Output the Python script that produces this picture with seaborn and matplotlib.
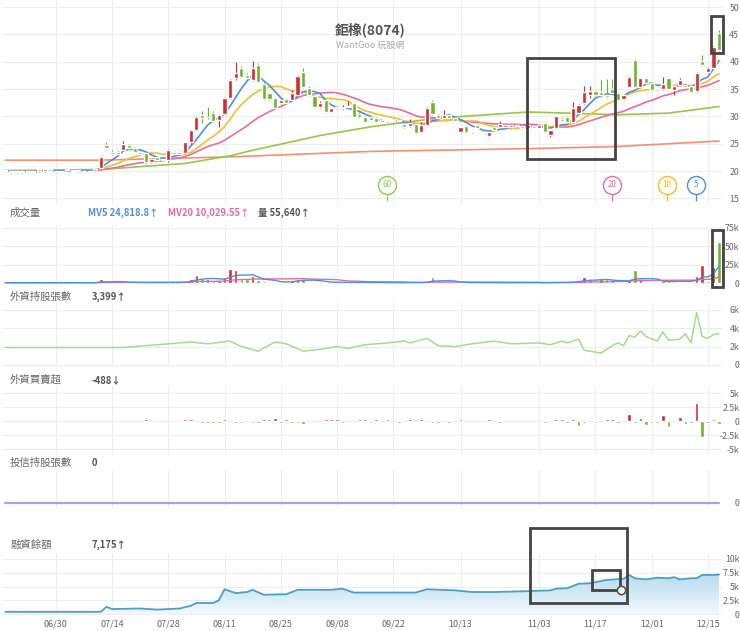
import numpy as np
import pandas as pd
import matplotlib
matplotlib.use('Agg')
import matplotlib.pyplot as plt
from matplotlib.patches import Rectangle
import seaborn as sns

# ---- data (index = trading day) ----
tick_pos = [9, 19, 29, 39, 49, 59, 69, 81, 95, 105, 115, 125]
tick_lbl = ['06/30', '07/14', '07/28', '08/11', '08/25', '09/08', '09/22',
            '10/13', '11/03', '11/17', '12/01', '12/15']

open_ = [20.2, 19.8, 19.9, 20.0, 19.8, 19.9, 20.3, 20.0, 20.3, 20.1, 19.9, 20.4, 20.2, 20.0, 20.1, 19.9,
         20.0, 20.5, 24.8, 23.5, 23.1, 23.8, 24.8, 24.2, 23.5, 23.3, 21.7, 22.5, 22.1, 22.1, 23.5, 23.4,
         23.3, 25.3, 27.5, 30.3, 29.9, 30.6, 29.3, 30.4, 33.4, 37.0, 38.8, 37.6, 36.7, 39.4, 35.9, 34.3,
         33.4, 32.5, 33.2, 33.0, 34.0, 38.1, 35.2, 33.8, 31.8, 33.0, 30.8, 31.7, 31.6, 31.7, 32.4, 30.5,
         29.9, 29.9, 29.7, 29.3, 29.2, 29.3, 29.3, 28.6, 28.2, 28.6, 27.1, 28.4, 32.6, 30.3, 29.7, 30.3,
         29.7, 27.1, 28.2, 27.1, 28.4, 27.2, 26.5, 28.0, 28.1, 28.0, 28.0, 28.2, 28.3, 27.9, 28.2, 27.9,
         28.8, 26.6, 27.8, 29.6, 29.8, 29.0, 30.6, 32.4, 34.0, 34.6, 34.5, 34.0, 35.0, 34.3, 33.2, 35.4,
         40.3, 35.4, 37.0, 36.1, 35.0, 35.0, 37.0, 34.8, 35.8, 35.7, 35.6, 34.6, 40.1, 38.1, 38.8, 45.2]
high = [20.3, 20.0, 20.1, 20.1, 20.0, 20.2, 20.4, 20.4, 20.4, 20.2, 20.2, 20.5, 20.3, 20.2, 20.2, 20.1,
        20.4, 22.7, 25.4, 23.8, 23.7, 25.5, 25.0, 24.4, 23.7, 23.5, 22.3, 22.7, 22.5, 24.0, 23.7, 23.6,
        25.4, 27.6, 30.0, 30.9, 31.8, 31.0, 30.5, 33.5, 36.8, 39.9, 39.2, 37.9, 40.2, 39.8, 36.2, 34.5,
        33.6, 33.2, 33.4, 34.8, 37.5, 38.9, 35.6, 34.0, 32.8, 33.2, 31.6, 31.9, 32.0, 32.8, 32.6, 30.8,
        30.1, 30.3, 29.9, 29.5, 29.4, 29.5, 29.5, 28.8, 29.5, 28.8, 28.9, 31.8, 33.0, 30.5, 31.2, 30.6,
        29.9, 28.1, 28.3, 27.4, 28.6, 27.3, 27.3, 28.1, 29.2, 28.6, 28.6, 28.4, 28.4, 28.5, 28.3, 28.5,
        29.0, 27.6, 30.1, 29.8, 30.0, 32.6, 32.3, 35.6, 35.6, 34.8, 36.6, 36.8, 36.8, 34.5, 34.0, 37.3,
        40.5, 37.1, 37.2, 36.3, 35.2, 37.2, 37.2, 35.8, 37.0, 35.9, 35.8, 38.1, 41.3, 39.0, 42.8, 45.8]
low = [19.8, 19.6, 19.7, 19.7, 19.7, 19.8, 19.9, 19.9, 20.0, 19.6, 19.8, 20.1, 20.0, 19.9, 19.8, 19.8,
       19.9, 20.4, 24.0, 23.0, 23.0, 23.6, 24.0, 23.4, 23.0, 21.5, 21.5, 22.0, 21.9, 21.6, 23.0, 23.0,
       23.2, 25.0, 27.4, 28.8, 29.5, 29.0, 28.0, 30.2, 33.2, 36.6, 37.0, 36.9, 36.5, 36.2, 33.0, 33.0,
       31.3, 32.3, 32.3, 32.8, 33.8, 35.2, 33.8, 31.5, 31.6, 30.6, 30.6, 31.4, 31.4, 31.6, 29.8, 29.7,
       28.9, 29.2, 28.8, 28.9, 29.0, 29.0, 29.0, 27.9, 28.0, 26.8, 26.9, 28.2, 30.2, 29.6, 29.5, 29.6,
       29.1, 27.0, 27.0, 27.0, 27.8, 26.9, 26.2, 27.4, 28.0, 27.9, 27.9, 28.0, 27.7, 27.8, 27.8, 27.8,
       27.1, 26.2, 27.7, 29.0, 28.9, 28.9, 30.5, 32.2, 33.3, 33.8, 33.5, 33.3, 34.2, 32.9, 33.0, 35.3,
       35.3, 35.2, 36.0, 34.7, 34.8, 34.8, 34.9, 34.0, 35.6, 35.3, 34.3, 34.5, 39.2, 37.9, 38.6, 42.0]
close = [20.0, 19.9, 20.0, 19.8, 19.9, 20.1, 20.0, 20.3, 20.1, 19.9, 20.1, 20.2, 20.1, 20.1, 19.9, 20.0,
         20.3, 22.6, 24.2, 23.1, 23.5, 25.0, 24.2, 23.5, 23.2, 21.7, 22.2, 22.1, 22.3, 23.9, 23.1, 23.1,
         25.3, 27.5, 29.8, 29.7, 29.8, 29.2, 30.3, 33.4, 36.7, 37.9, 37.2, 37.0, 38.8, 36.3, 33.1, 33.1,
         31.5, 33.0, 32.4, 34.3, 37.3, 35.4, 34.0, 31.7, 32.5, 30.8, 31.5, 31.5, 31.6, 31.8, 29.9, 29.8,
         29.0, 29.4, 28.9, 29.0, 29.2, 29.2, 29.1, 28.0, 28.8, 27.0, 28.4, 31.5, 30.4, 29.7, 30.3, 29.7,
         29.2, 28.0, 27.2, 27.3, 27.9, 27.0, 27.2, 27.5, 28.6, 28.4, 28.5, 28.2, 27.8, 28.4, 27.9, 28.4,
         27.2, 27.5, 30.0, 29.1, 29.0, 31.5, 32.1, 34.5, 34.6, 33.9, 33.9, 33.6, 34.3, 33.0, 33.9, 37.2,
         35.4, 37.0, 36.1, 34.8, 35.0, 36.0, 35.0, 35.6, 36.7, 35.4, 34.4, 38.0, 39.4, 38.8, 42.7, 42.1]

# volume, thousands of shares
volume = [0.4, 0.3, 0.5, 0.3, 0.4, 0.6, 0.3, 0.5, 0.4, 0.3, 0.5, 0.4, 0.3, 0.4, 0.3, 0.5,
          0.8, 5.0, 1.5, 1.0, 0.8, 1.2, 0.8, 0.7, 0.5, 0.8, 0.5, 0.4, 0.9, 1.0, 0.6, 0.5,
          2.0, 6.0, 11.0, 6.0, 5.0, 2.5, 4.0, 8.0, 19.0, 17.0, 5.0, 5.0, 10.0, 3.5, 2.5, 1.2,
          1.0, 1.0, 1.2, 4.0, 6.0, 6.0, 2.0, 1.2, 1.0, 1.2, 0.8, 0.6, 0.7, 1.0, 1.2, 1.0,
          0.8, 0.6, 0.7, 0.5, 0.4, 0.4, 0.5, 0.6, 0.5, 0.8, 0.7, 2.5, 8.0, 2.0, 2.0, 0.8,
          0.6, 0.7, 0.6, 0.4, 0.5, 0.4, 0.5, 0.4, 0.4, 0.3, 0.4, 0.3, 0.4, 0.3, 0.4, 0.4,
          0.6, 0.8, 1.5, 0.7, 0.8, 2.0, 3.5, 8.0, 4.0, 2.0, 5.0, 5.0, 4.0, 1.0, 1.0, 3.5,
          17.0, 6.0, 2.0, 1.0, 1.0, 3.0, 3.0, 2.0, 2.0, 2.0, 2.0, 10.0, 25.0, 3.0, 21.0, 55.64]

ma60_idx = [0, 17, 32, 40, 44, 52, 56, 65, 77, 93, 100, 109, 118, 127]
ma60_val = [20.1, 20.3, 21.4, 22.8, 23.8, 25.6, 26.5, 28.1, 29.7, 30.8, 30.6, 30.3, 30.6, 31.8]
malong_idx = [0, 17, 40, 65, 93, 109, 127]
malong_val = [22.0, 22.0, 22.6, 23.6, 24.1, 24.5, 25.5]

# foreign holdings (k)
fhold_idx = [0, 21, 25, 33, 36, 40, 42, 45, 48, 50, 53, 56, 59, 61, 64, 68, 71, 72, 75, 77, 80, 83,
             87, 90, 95, 97, 99, 100, 102, 103, 106, 108, 109, 110, 111, 112, 113, 114, 116, 117,
             118, 120, 121, 122, 123, 124, 125, 126, 127]
fhold_val = [1.9, 1.9, 2.1, 2.5, 2.3, 2.6, 2.0, 1.5, 2.5, 2.3, 1.5, 1.7, 2.0, 1.8, 2.2, 2.4, 2.6, 2.4,
             2.9, 2.1, 2.0, 2.3, 2.6, 2.3, 2.4, 2.2, 2.6, 2.4, 2.8, 1.6, 1.3, 2.1, 2.4, 2.1, 3.2, 3.0,
             3.7, 3.1, 2.6, 3.6, 2.7, 2.8, 3.4, 2.4, 5.7, 3.1, 2.9, 3.3, 3.399]

# foreign net buy/sell (k)
fnet_idx = [25, 32, 33, 35, 36, 37, 38, 39, 41, 42, 44, 45, 46, 47, 48, 49, 50, 51, 52, 53, 57, 58,
            59, 60, 63, 64, 65, 66, 68, 70, 72, 74, 76, 77, 79, 81, 86, 88, 96, 98, 99, 100, 101,
            102, 103, 105, 107, 108, 109, 111, 112, 113, 114, 115, 116, 117, 118, 120, 121, 122,
            123, 124, 125, 126, 127]
fnet_val = [0.06, 0.06, 0.08, -0.06, -0.06, -0.08, -0.06, 0.3, -0.4, -0.2, -0.1, -0.15, 0.3, 0.2, 0.5,
            -0.1, 0.1, -0.3, -0.3, -0.6, 0.06, 0.06, 0.06, -0.2, 0.1, 0.1, -0.2, 0.2, 0.1, -0.1,
            0.1, 0.2, -0.4, -0.4, -0.1, 0.06, 0.06, -0.06, -0.2, 0.2, 0.1, -0.1, 0.2, -0.9, -0.3,
            -0.15, 0.2, 0.2, -0.1, 1.2, -0.3, 0.5, -0.8, -0.2, -0.2, 1.1, -1.0, 0.8, -0.6, -0.3,
            3.2, -2.9, -0.1, 0.3, -0.488]

trust_idx = [0, 127]
trust_val = [0, 0]

# margin balance (k)
margin_idx = [0, 17, 18, 19, 24, 27, 31, 33, 34, 37, 38, 39, 41, 43, 44, 46, 50, 52, 58, 60, 62, 73,
              75, 80, 83, 87, 91, 97, 98, 100, 102, 104, 107, 110, 111, 112, 114, 116, 118, 119,
              120, 122, 123, 124, 126, 127]
margin_val = [0.4, 0.4, 1.3, 0.9, 1.0, 0.8, 1.0, 1.5, 2.0, 2.0, 2.5, 4.5, 3.8, 4.0, 4.4, 3.5, 3.6,
              4.4, 4.4, 4.6, 3.9, 3.9, 4.5, 4.3, 4.0, 4.0, 4.1, 4.3, 4.6, 4.7, 5.5, 5.6, 6.2, 6.4,
              7.1, 6.5, 6.3, 6.6, 6.5, 6.7, 6.3, 6.5, 6.5, 7.1, 7.1, 7.175]

# ---- colours ----
RED = '#d42a30'
GREEN = '#6db62c'
C_MA5 = '#4f8fdf'
C_MA10 = '#f4bf2b'
C_MA20 = '#e66c9f'
C_MA60 = '#98c54c'
C_LONG = '#f2906f'
GRID = '#ededed'
TXT = '#666666'

sns.set_style('white')
plt.rcParams['font.family'] = ['Noto Sans CJK TC', 'DejaVu Sans']

W, H = 740, 631
fig = plt.figure(figsize=(W / 100, H / 100), dpi=100)
XL = (-0.59, 127.52)


def panel(top, bottom, ylim, yticks, ylabels):
    ax = fig.add_axes([2 / W, 1 - bottom / H, 720 / W, (bottom - top) / H])
    ax.set_xlim(*XL)
    ax.set_ylim(*ylim)
    ax.set_xticks(tick_pos)
    ax.set_xticklabels([])
    ax.set_yticks(yticks)
    ax.yaxis.tick_right()
    # right-aligned so the labels end just inside the figure edge
    ax.set_yticklabels(ylabels, fontsize=6.3, color=TXT, ha='right')
    ax.tick_params(axis='y', length=0, pad=12.3)
    ax.tick_params(axis='x', length=0)
    ax.grid(True, color=GRID, lw=0.8)
    for s in ax.spines.values():
        s.set_visible(False)
    return ax


def label(x, y, s, **kw):
    kw.setdefault('color', '#666666')
    kw.setdefault('fontsize', 7.5)
    fig.text(x / W, 1 - y / H, s, va='center', ha='left', **kw)


days = np.arange(len(close))
o, h, l, c = map(np.array, (open_, high, low, close))

# ---- price panel ----
ax = panel(0, 205, (13.8, 51.28), [15, 20, 25, 30, 35, 40, 45, 50],
           ['15', '20', '25', '30', '35', '40', '45', '50'])
cs = pd.Series(close)
sns.lineplot(x=malong_idx, y=malong_val, ax=ax, color=C_LONG, lw=1.2, zorder=2)
sns.lineplot(x=ma60_idx, y=ma60_val, ax=ax, color=C_MA60, lw=1.2, zorder=2)
sns.lineplot(x=days, y=cs.rolling(20, min_periods=1).mean(), ax=ax, color=C_MA20, lw=1.2, zorder=3)
sns.lineplot(x=days, y=cs.rolling(10, min_periods=1).mean(), ax=ax, color=C_MA10, lw=1.2, zorder=3)
sns.lineplot(x=days, y=cs.rolling(5, min_periods=1).mean(), ax=ax, color=C_MA5, lw=1.2, zorder=3)
ax.set_xlabel('')
ax.set_ylabel('')

col = np.where(c > o, RED, np.where(c < o, GREEN, '#333333'))
ax.vlines(days, l, h, colors=col, lw=0.8, zorder=5)
ax.bar(days, np.maximum(np.abs(c - o), 0.18), bottom=np.minimum(o, c), width=0.74,
       color=col, zorder=5)

for xi, txt, cc in [(67.9, '60', C_MA60), (108.0, '20', C_MA20), (117.7, '10', C_MA10), (122.9, '5', C_MA5)]:
    ax.vlines(xi, 14.6, 16.4, color=cc, lw=0.9, zorder=5)
    ax.plot(xi, 17.5, 'o', ms=13, mfc='white', mec=cc, mew=1.0, zorder=6)
    ax.text(xi, 17.5, txt, color=cc, fontsize=5.8, ha='center', va='center', zorder=7)

ax.add_patch(Rectangle((92.8, 22.2), 15.7, 18.5, fill=False, ec='#444444', lw=2, zorder=8, clip_on=False))
ax.add_patch(Rectangle((125.6, 41.6), 2.1, 6.8, fill=False, ec='#444444', lw=2, zorder=8, clip_on=False))

fig.text(370 / W, 1 - 30 / H, '鉅橡(8074)', ha='center', va='center', fontsize=10,
         color='#555555', fontweight='bold')
fig.text(370 / W, 1 - 45 / H, 'WantGoo 玩股網', ha='center', va='center', fontsize=6.5, color='#aaaaaa')

# ---- volume panel ----
axv = panel(225, 286, (-4.05, 78.4), [0, 25, 50, 75], ['0', '25k', '50k', '75k'])
vcol = [RED] + [RED if c[i] >= c[i - 1] else GREEN for i in range(1, len(c))]
vs = pd.Series(volume)
sns.lineplot(x=days, y=vs.rolling(20, min_periods=1).mean(), ax=axv, color=C_MA20, lw=1.0, zorder=4)
sns.lineplot(x=days, y=vs.rolling(5, min_periods=1).mean(), ax=axv, color=C_MA5, lw=1.0, zorder=4)
axv.bar(days, volume, width=0.62, color=vcol, zorder=3)
axv.set_xlabel('')
axv.set_ylabel('')
axv.add_patch(Rectangle((125.7, -5.4), 2.0, 77.0, fill=False, ec='#444444', lw=2, zorder=8, clip_on=False))

label(10, 213, '成交量')
label(88, 213, 'MV5 24,818.8↑', color=C_MA5, fontweight='bold', fontsize=6.8)
label(168, 213, 'MV20 10,029.55↑', color=C_MA20, fontweight='bold', fontsize=6.8)
label(258, 213, '量 55,640↑', color='#555555', fontweight='bold', fontsize=6.8)

# ---- foreign holdings ----
axf = panel(303, 367, (-0.22, 6.74), [0, 2, 4, 6], ['0', '2k', '4k', '6k'])
sns.lineplot(x=fhold_idx, y=fhold_val, ax=axf, color='#a3dd8c', lw=1.1, zorder=3)
axf.set_xlabel('')
axf.set_ylabel('')
label(10, 297, '外資持股張數')
label(92, 297, '3,399↑', color='#555555', fontweight='bold', fontsize=6.8)

# ---- foreign net buy/sell ----
axn = panel(386, 455, (-6.07, 6.25), [-5, -2.5, 0, 2.5, 5], ['-5k', '-2.5k', '0', '2.5k', '5k'])
fn = np.array(fnet_val)
fn_draw = np.sign(fn) * np.maximum(np.abs(fn), 0.42)   # keep tiny bars visible as in the site
axn.bar(fnet_idx, fn_draw, width=0.66, color=[RED if v > 0 else GREEN for v in fnet_val], zorder=3)
label(10, 380, '外資買賣超')
label(92, 380, '-488↓', color='#555555', fontweight='bold', fontsize=6.8)

# ---- investment trust holdings ----
axt = panel(470, 508, (-1, 6.6), [0], ['0'])
axt.grid(axis='y', visible=False)
sns.lineplot(x=trust_idx, y=trust_val, ax=axt, color='#a5a3e2', lw=1.6, zorder=3)
axt.set_xlabel('')
axt.set_ylabel('')
label(10, 463, '投信持股張數')
label(92, 463, '0', color='#555555', fontweight='bold', fontsize=6.8)

# ---- margin balance ----
axm = panel(553, 615, (-0.18, 11.09), [0, 2.5, 5, 7.5, 10], ['0', '2.5k', '5k', '7.5k', '10k'])
fill = axm.fill_between(margin_idx, margin_val, 0, color='none', lw=0)
grad = axm.imshow(np.linspace(0, 1, 256).reshape(-1, 1), cmap=sns.blend_palette(
    ['#f3f9fc', '#b5dbee'], as_cmap=True), aspect='auto', origin='lower',
    extent=[XL[0], XL[1], 0, 7.3], zorder=2)
grad.set_clip_path(fill.get_paths()[0], transform=axm.transData)
axm.set_xlim(*XL)
axm.set_ylim(-0.18, 11.09)
sns.lineplot(x=margin_idx, y=margin_val, ax=axm, color='#4aa0c8', lw=1.3, zorder=3)
axm.set_xlabel('')
axm.set_ylabel('')
axm.set_xticklabels(tick_lbl, fontsize=6.5, color=TXT)
axm.tick_params(axis='x', pad=3)
axm.add_patch(Rectangle((93.4, 2.0), 17.2, 13.6, fill=False, ec='#444444', lw=2, zorder=8, clip_on=False))
axm.add_patch(Rectangle((104.4, 4.4), 5.0, 3.6, fill=False, ec='#444444', lw=2, zorder=8, clip_on=False))
axm.plot(109.5, 4.4, 'o', ms=6, mfc='white', mec='#555555', mew=1.2, zorder=9, clip_on=False)
label(10, 545, '融資餘額')
label(92, 545, '7,175↑', color='#555555', fontweight='bold', fontsize=6.8)

fig.savefig('out.png', dpi=100, facecolor='white')
